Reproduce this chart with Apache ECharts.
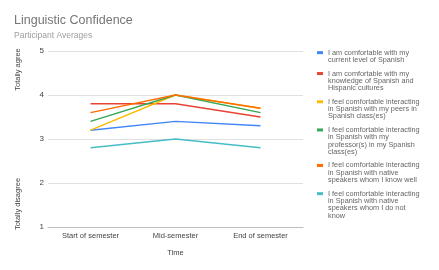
<!DOCTYPE html>
<html>
<head>
<meta charset="utf-8">
<script src="https://cdn.jsdelivr.net/npm/echarts@6/dist/echarts.min.js"></script>
<style>
  html, body { margin: 0; padding: 0; background: #fff; }
  #chart { width: 439px; height: 270px; }
</style>
</head>
<body>
<div id="chart"></div>
<script>
const categories = ['Start of semester', 'Mid-semester', 'End of semester'];
const seriesNames = [
  'I am comfortable with my current level of Spanish',
  'I am comfortable with my knowledge of Spanish and Hispanic cultures',
  'I feel comfortable interacting in Spanish with my peers in Spanish class(es)',
  'I feel comfortable interacting in Spanish with my professor(s) in my Spanish class(es)',
  'I feel comfortable interacting in Spanish with native speakers whom I know well',
  'I feel comfortable interacting in Spanish with native speakers whom I do not know',
];
// wrapped legend lines, as shown in the picture
const legendLines = [
  ['I am comfortable with my', 'current level of Spanish'],
  ['I am comfortable with my', 'knowledge of Spanish and', 'Hispanic cultures'],
  ['I feel comfortable interacting', 'in Spanish with my peers in', 'Spanish class(es)'],
  ['I feel comfortable interacting', 'in Spanish with my', 'professor(s) in my Spanish', 'class(es)'],
  ['I feel comfortable interacting', 'in Spanish with native', 'speakers whom I know well'],
  ['I feel comfortable interacting', 'in Spanish with native', 'speakers whom I do not', 'know'],
];
const currentLevel = [3.2, 3.4, 3.3];
const knowledge = [3.8, 3.8, 3.5];
const peers = [3.2, 4.0, 3.7];
const professors = [3.4, 4.0, 3.6];
const nativeKnown = [3.6, 4.0, 3.7];
const nativeUnknown = [2.8, 3.0, 2.8];
const yTicks = [1, 2, 3, 4, 5];

const colors = ['#4285F4', '#EA4335', '#FBBC04', '#34A853', '#FF6D01', '#46BDC6'];
const values = [currentLevel, knowledge, peers, professors, nativeKnown, nativeUnknown];
const font = 'Arial, "Liberation Sans", sans-serif';
const lineH = 7.3;
const legendGap = 6.3;

// ECharts centres the icon on a multi-line label, so each entry is split:
// icon + first line, then the remaining lines with a hidden icon underneath
const legendBase = {
  orient: 'vertical',
  left: 317,
  padding: 0,
  itemWidth: 6,
  itemHeight: 3,
  icon: 'rect',
  selectedMode: false,
  textStyle: { fontFamily: font, fontSize: 7.3, color: '#666', lineHeight: lineH },
};
const legends = [];
let firstLineTop = 49;
seriesNames.forEach((name, i) => {
  const lines = legendLines[i];
  legends.push(Object.assign({}, legendBase, {
    top: firstLineTop,
    data: [name],
    formatter: () => lines[0],
  }));
  legends.push(Object.assign({}, legendBase, {
    top: firstLineTop + lineH,
    data: [name],
    itemStyle: { color: 'transparent', opacity: 0 },
    formatter: () => lines.slice(1).join('\n'),
  }));
  firstLineTop += lines.length * lineH + legendGap;
});

const chart = echarts.init(document.getElementById('chart'));

const option = {
  animation: false,
  color: colors,
  title: {
    text: 'Linguistic Confidence',
    subtext: 'Participant Averages',
    left: 9,
    top: 9,
    itemGap: 4,
    textStyle: { fontFamily: font, fontSize: 12.5, fontWeight: 'normal', color: '#757575' },
    subtextStyle: { fontFamily: font, fontSize: 8.5, color: '#9e9e9e' },
  },
  legend: legends,
  grid: { left: 48, right: 136, top: 51, bottom: 43 },
  xAxis: {
    type: 'category',
    data: categories,
    name: 'Time',
    nameLocation: 'middle',
    nameGap: 22,
    nameTextStyle: { fontFamily: font, fontSize: 7.5, color: '#444' },
    axisLine: { lineStyle: { color: '#bdbdbd' } },
    axisTick: { show: false },
    axisLabel: { fontFamily: font, fontSize: 7.5, color: '#444', margin: 5 },
  },
  yAxis: {
    type: 'value',
    min: yTicks[0],
    max: yTicks[yTicks.length - 1],
    interval: 1,
    axisLine: { show: false },
    axisTick: { show: false },
    axisLabel: { fontFamily: font, fontSize: 8, color: '#444', margin: 4 },
    splitLine: { lineStyle: { color: '#e0e0e0' } },
  },
  graphic: [
    {
      type: 'text',
      x: 18,
      y: 69.5,
      rotation: Math.PI / 2,
      style: { text: 'Totally agree', fontFamily: font, fontSize: 7.5, fill: '#444', align: 'center', verticalAlign: 'middle' },
    },
    {
      type: 'text',
      x: 18,
      y: 204,
      rotation: Math.PI / 2,
      style: { text: 'Totally disagree', fontFamily: font, fontSize: 7.5, fill: '#444', align: 'center', verticalAlign: 'middle' },
    },
  ],
  series: seriesNames.map((name, i) => ({
    name,
    type: 'line',
    data: values[i],
    symbol: 'none',
    lineStyle: { width: 1.4 },
  })),
};

chart.setOption(option);
</script>
</body>
</html>
